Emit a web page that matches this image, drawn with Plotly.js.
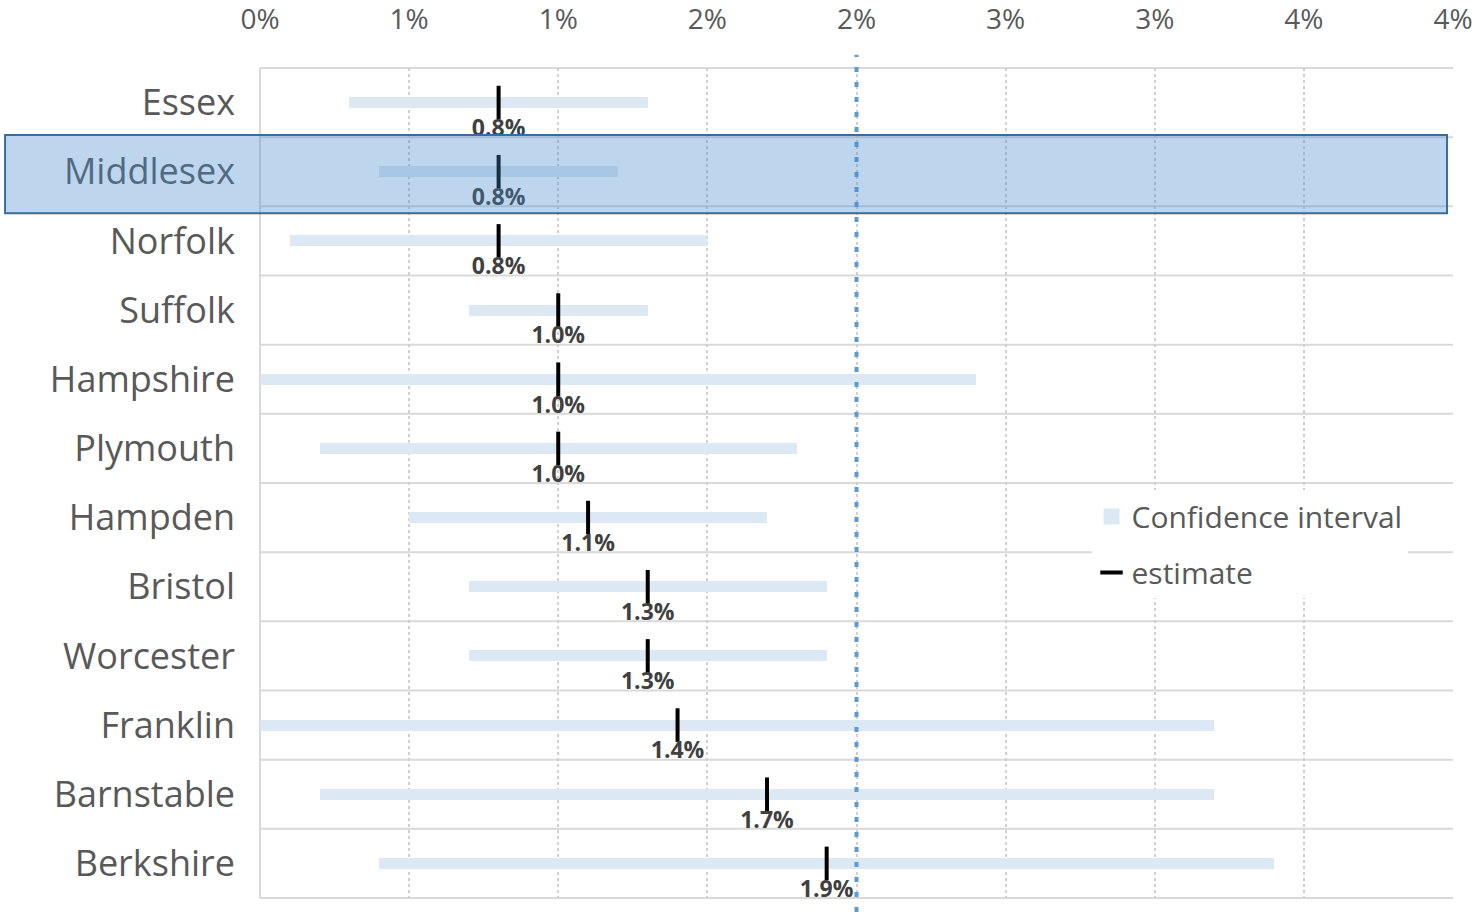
<!DOCTYPE html>
<html>
<head>
<meta charset="utf-8">
<script src="https://cdn.plot.ly/plotly-3.0.1.min.js"></script>
<style>html,body{margin:0;padding:0;background:#fff;}#chart{width:1474px;height:915px;}</style>
</head>
<body>
<div id="chart"></div>
<script>
const categories = ['Essex','Middlesex','Norfolk','Suffolk','Hampshire','Plymouth','Hampden','Bristol','Worcester','Franklin','Barnstable','Berkshire'];
const estimate = [0.8,0.8,0.8,1.0,1.0,1.0,1.1,1.3,1.3,1.4,1.7,1.9];
const ciLow  = [0.3,0.4,0.1,0.7,0.0,0.2,0.5,0.7,0.7,0.0,0.2,0.4];
const ciHigh = [1.3,1.2,1.5,1.3,2.4,1.8,1.7,1.9,1.9,3.2,3.2,3.4];
const tickVals = [0,0.5,1,1.5,2,2.5,3,3.5,4];
const tickLabels = ['0%','1%','1%','2%','2%','3%','3%','4%','4%'];
const refLine = 2.0;
const highlighted = 'Middlesex';

const FONT = 'Open Sans';
const n = categories.length;
const CI_COLOR = '#dde8f5';

const ciTrace = {
  type: 'bar', orientation: 'h',
  y: categories,
  base: ciLow,
  x: ciHigh.map((h,i)=>h-ciLow[i]),
  width: 0.16,
  marker: {color: CI_COLOR},
  name: 'Confidence interval',
  showlegend: false,
  hoverinfo: 'skip'
};
const estTrace = {
  type: 'scatter', mode: 'markers+text',
  y: categories, x: estimate,
  marker: {symbol: 'line-ns', size: 24, line: {width: 4, color: '#000'}, color: '#000'},
  text: estimate.map(v=>v.toFixed(1)+'%'),
  textposition: 'bottom center',
  textfont: {family: FONT, size: 23, color: '#404040', weight: 'bold'},
  showlegend: false,
  hoverinfo: 'skip'
};
const ciLegend = {
  type: 'scatter', mode: 'markers',
  x: [null], y: [null],
  marker: {symbol: 'square', size: 16, color: CI_COLOR},
  name: 'Confidence interval', legendgroup: 'a'
};
const estLegend = {
  type: 'scatter', mode: 'markers',
  x: [null], y: [null],
  marker: {symbol: 'line-ew', size: 16, line: {width: 4, color: '#000'}},
  name: 'estimate', legendgroup: 'b'
};

const shapes = [];
for (let i = 0; i <= n; i++) {
  shapes.push({type:'line', xref:'paper', yref:'paper', x0:0, x1:1, y0:1-i/n, y1:1-i/n,
    line:{color:'#d9d9d9', width:2}, layer:'below'});
}
shapes.push({type:'line', xref:'paper', yref:'paper', x0:0, x1:0, y0:0, y1:1, line:{color:'#d9d9d9', width:2}, layer:'below'});
shapes.push({type:'line', xref:'x', yref:'paper', x0:refLine, x1:refLine, y0:-0.017, y1:1.016,
  line:{color:'#5b9bd5', width:4, dash:'5px,10px'}, layer:'above'});
const hi = categories.indexOf(highlighted);
shapes.push({type:'rect', xref:'paper', yref:'paper', x0:-0.2137, x1:0.995,
  y0:1-(hi+1.1)/n, y1:1-(hi-0.03)/n,
  fillcolor:'rgba(68,138,204,0.35)', line:{color:'#3a6d9c', width:2}, layer:'above'});

const layout = {
  width: 1474, height: 915,
  margin: {l: 260, r: 21, t: 68, b: 17},
  paper_bgcolor: '#fff', plot_bgcolor: '#fff',
  showlegend: true,
  bargap: 0,
  xaxis: {
    side: 'top', range: [0,4], tickvals: tickVals, ticktext: tickLabels,
    showgrid: true, gridcolor: '#d0d0d0', gridwidth: 2, griddash: 'dot',
    zeroline: false, showline: false, ticks: '',
    tickfont: {family: FONT, size: 28, color: '#595959'},
    ticklabelstandoff: 32, fixedrange: true
  },
  yaxis: {
    type: 'category', range: [n-0.5, -0.5], showgrid: false, zeroline: false,
    ticks: '', showline: false,
    tickfont: {family: FONT, size: 36, color: '#595959'},
    ticklabelstandoff: 24, fixedrange: true
  },
  legend: {
    x: 0.697, y: 0.491, xanchor: 'left', yanchor: 'top',
    bgcolor: '#fff', borderwidth: 0,
    font: {family: FONT, size: 30, color: '#595959'},
    traceorder: 'grouped', tracegroupgap: 14
  },
  shapes: shapes
};

Plotly.newPlot('chart', [ciTrace, estTrace, ciLegend, estLegend], layout, {displayModeBar: false, staticPlot: true});
</script>
</body>
</html>
